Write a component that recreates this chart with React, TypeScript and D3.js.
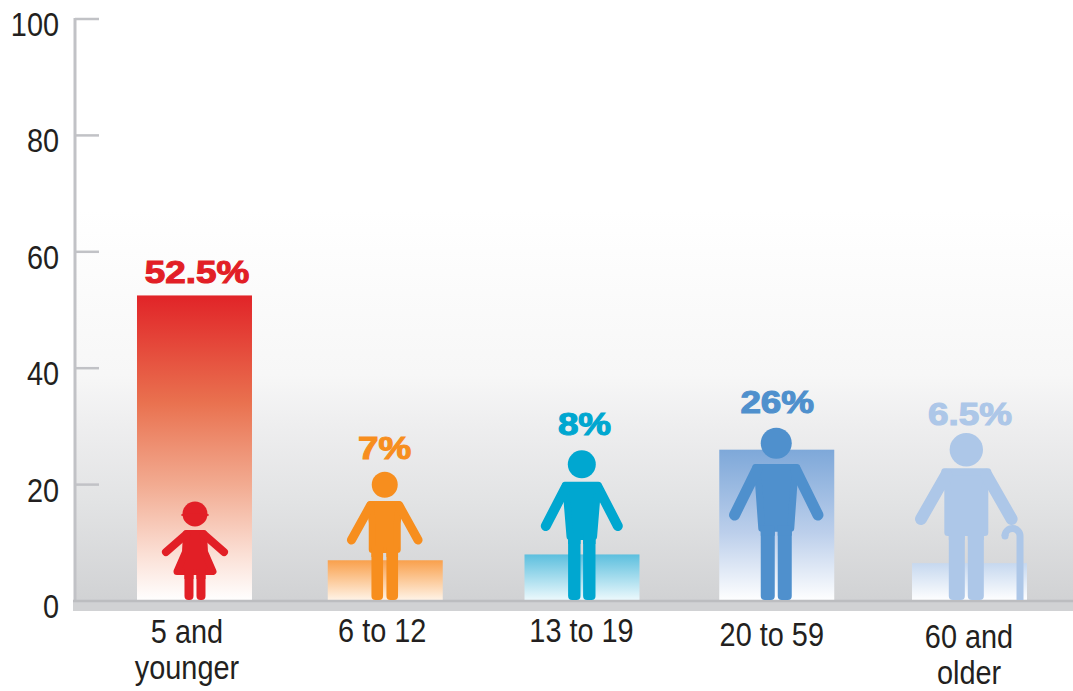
import React from "react";
import * as d3 from "d3";

const categories = ["5 and younger", "6 to 12", "13 to 19", "20 to 59", "60 and older"];
const shares = [52.5, 7, 8, 26, 6.5];
const shareLabels = ["52.5%", "7%", "8%", "26%", "6.5%"];
const categoryLines = [["5 and", "younger"], ["6 to 12"], ["13 to 19"], ["20 to 59"], ["60 and", "older"]];
const yTicks = [0, 20, 40, 60, 80, 100];
const colors = ["#e21f26", "#f78e1e", "#00a7d0", "#4f90cd", "#adc7e8"];

const W = 1073, H = 691;
const SANS = "'Liberation Sans', Arial, sans-serif";

const y = d3.scaleLinear().domain([0, 100]).range([601, 19]);
const x = d3.scaleBand<string>().domain(categories).range([97.6, 1066.4]).paddingInner(0.4065).paddingOuter(0.2033);

// layout tweaks per category, in px
const barNudge = [0, -3, 0, 1, 0];
const figNudge = [0.5, -0.5, -0.2, -0.5, -3.2];
const labelDx = [2.5, -3.5, 2.5, 1.5, 0.5];
const labelBase = [283, 459, 435, 413, 425];
const catDx = [-7.5, -6, -0.5, -4, -0.5];
const catBase = [[643, 679], [642], [642], [646], [648, 684]];

const barStops = [
  [["0", "#e12428"], ["0.35", "#e9714f"], ["0.62", "#f2ab91"], ["0.85", "#fbe0d6"], ["1", "#ffffff"]],
  [["0", "#f9a04c"], ["1", "#fff5ea"]],
  [["0", "#5cbfde"], ["1", "#effafd"]],
  [["0", "#7ea8d9"], ["0.55", "#bccfeb"], ["1", "#ffffff"]],
  [["0", "#c6d8ef"], ["1", "#ffffff"]],
];

type Fig = { r: number; headY: number; shTop: number; shHalf: number; topHalf: number; botHalf: number; botY: number; handDx: number; handY: number; armW: number; legOuter: number; legInner: number; girl?: boolean; cane?: boolean };
const figures: Fig[] = [
  { r: 12.5, headY: 86, shTop: 70, shHalf: 12, topHalf: 13, botHalf: 21.5, botY: 25, handDx: 29, handY: 48, armW: 8, legOuter: 10.5, legInner: 1.5, girl: true },
  { r: 13, headY: 115.3, shTop: 99, shHalf: 18, topHalf: 16, botHalf: 16, botY: 47, handDx: 33.3, handY: 60, armW: 9, legOuter: 13.3, legInner: 1.7 },
  { r: 14, headY: 135.7, shTop: 118.3, shHalf: 20, topHalf: 18, botHalf: 15.3, botY: 60, handDx: 36, handY: 74, armW: 10, legOuter: 13.7, legInner: 1.3 },
  { r: 15.5, headY: 156.7, shTop: 136, shHalf: 24, topHalf: 21, botHalf: 18, botY: 68.3, handDx: 41.7, handY: 85, armW: 11, legOuter: 15.5, legInner: 1.5 },
  { r: 16.7, headY: 150.3, shTop: 131.7, shHalf: 25, topHalf: 22, botHalf: 22, botY: 64, handDx: 45.3, handY: 81, armW: 12, legOuter: 17.5, legInner: 1.5, cane: true },
];

function Narrow({ px, py, anchor, children }: { px: number; py: number; anchor: string; children: React.ReactNode }) {
  return (
    <text transform={`translate(${px},${py}) scale(0.875,1)`} textAnchor={anchor} fontFamily={SANS} fontSize={33} fill="#231f20">{children}</text>
  );
}

function Figure({ f, cx, base, color }: { f: Fig; cx: number; base: number; color: string }) {
  const Y = (h: number) => base - h;
  const legW = f.legOuter - f.legInner;
  const j = 7; // corner rounding stroke
  const armTopX = f.shHalf - f.armW / 2 + 1;
  const armTopY = f.shTop - f.armW / 2 - 0.5;
  const line = d3.line();
  const torsoPts: [number, number][] = [
    [cx - f.shHalf + j / 2, Y(f.shTop - j / 2)],
    [cx + f.shHalf - j / 2, Y(f.shTop - j / 2)],
    [cx + f.topHalf - j / 2, Y(f.shTop - 22)],
    [cx + f.botHalf - j / 2, Y(f.botY + j / 2)],
    [cx - f.botHalf + j / 2, Y(f.botY + j / 2)],
    [cx - f.topHalf + j / 2, Y(f.shTop - 22)],
  ];
  return (
    <g fill={color}>
      <circle cx={cx} cy={Y(f.headY)} r={f.r} />
      {f.girl && <ellipse cx={cx} cy={Y(f.headY) + 1} rx={f.r + 1.5} ry={2} />}
      <path d={line(torsoPts) + "Z"} stroke={color} strokeWidth={j} strokeLinejoin="round" />
      {[-1, 1].map((s) => (
        <path key={s} d={line([[cx + s * armTopX, Y(armTopY)], [cx + s * f.handDx, Y(f.handY)]]) || ""} stroke={color} strokeWidth={f.armW} strokeLinecap="round" fill="none" />
      ))}
      {[-1, 1].map((s) => (
        <g key={s}>
          <rect x={s < 0 ? cx - f.legOuter : cx + f.legInner} y={Y(f.botY + 6)} width={legW} height={f.botY + 6} rx={Math.min(4, legW / 2)} />
          <rect x={s < 0 ? cx - f.legOuter : cx + f.legInner} y={Y(f.botY + 6)} width={legW} height={10} />
        </g>
      ))}
      {f.cane && (
        <>
          <path
            d={`M${cx + 53.7} ${base} V${base - 64} a7.5 7.5 0 0 0 -15 0`}
            fill="none"
            stroke={color}
            strokeWidth={7}
          />
          <circle cx={cx + 38.7} cy={base - 64} r={3.5} />
        </>
      )}
    </g>
  );
}

export default function App() {
  const base = y(0);
  return (
    <svg width={W} height={H} viewBox={`0 0 ${W} ${H}`} style={{ position: "absolute", left: 0, top: 0, display: "block", background: "#fff" }}>
      <defs>
        <linearGradient id="bg" gradientUnits="userSpaceOnUse" x1="0" x2="0" y1="210" y2={base}>
          <stop offset="0" stopColor="#ffffff" />
          <stop offset="0.42" stopColor="#f7f7f7" />
          <stop offset="0.55" stopColor="#eeeeef" />
          <stop offset="0.75" stopColor="#e2e3e4" />
          <stop offset="1" stopColor="#d1d2d4" />
        </linearGradient>
        {barStops.map((stops, i) => (
          <linearGradient key={i} id={`bar${i}`} x1="0" x2="0" y1="0" y2="1">
            {stops.map(([o, c]) => <stop key={o} offset={o} stopColor={c} />)}
          </linearGradient>
        ))}
      </defs>

      <rect x={75} y={210} width={W - 75} height={base - 210} fill="url(#bg)" />
      <rect x={73} y={base} width={W - 73} height={10} fill="#d1d2d4" />

      <line x1={75} x2={75} y1={y(100) - 1} y2={base} stroke="#c1c2c6" strokeWidth={3} />
      {yTicks.map((t) => (
        <g key={t}>
          {t > 0 && <line x1={75} x2={99} y1={y(t)} y2={y(t)} stroke="#c1c2c6" strokeWidth={2.5} />}
          <Narrow px={59} py={y(t) + 17} anchor="end">{t}</Narrow>
        </g>
      ))}

      {categories.map((c, i) => (
        <rect key={c} x={(x(c) as number) + barNudge[i]} y={y(shares[i])} width={x.bandwidth()} height={base - y(shares[i])} fill={`url(#bar${i})`} />
      ))}
      <line x1={73} x2={W} y1={base} y2={base} stroke="#bcbdc0" strokeWidth={2.5} />

      {categories.map((c, i) => {
        const center = (x(c) as number) + x.bandwidth() / 2;
        return (
          <g key={c}>
            <Figure f={figures[i]} cx={center + barNudge[i] + figNudge[i]} base={base - 1} color={colors[i]} />
            <text transform={`translate(${center + labelDx[i]},${labelBase[i]}) scale(1.17,1)`} textAnchor="middle" fontFamily={SANS} fontWeight={700} fontSize={31.5} fill={colors[i]} stroke={colors[i]} strokeWidth={1.1}>{shareLabels[i]}</text>
            {categoryLines[i].map((l, k) => (
              <Narrow key={l} px={center + catDx[i]} py={catBase[i][k]} anchor="middle">{l}</Narrow>
            ))}
          </g>
        );
      })}
    </svg>
  );
}
